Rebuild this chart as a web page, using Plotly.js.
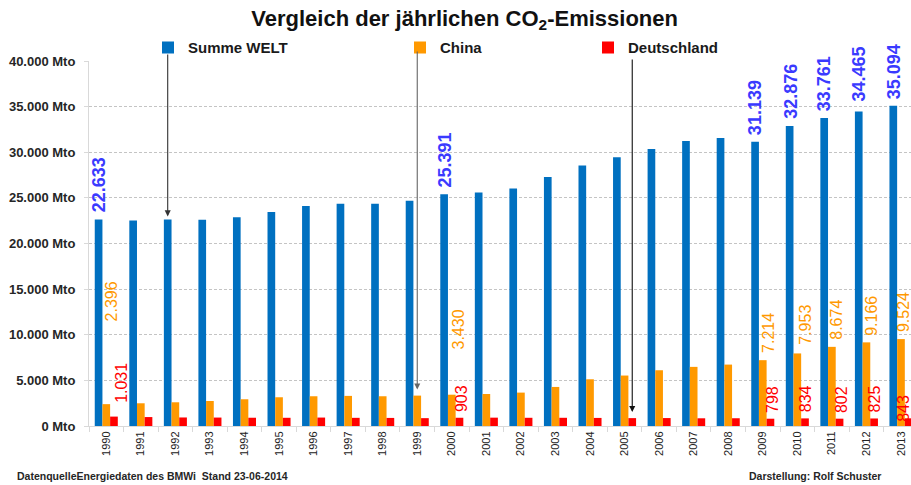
<!DOCTYPE html>
<html><head><meta charset="utf-8">
<script src="https://cdn.plot.ly/plotly-3.0.1.min.js"></script>
<style>html,body{margin:0;padding:0;background:#fff}#chart{width:911px;height:485px}</style>
</head><body><div id="chart"></div>
<script>
// ---- data ----
const years = ['1990','1991','1992','1993','1994','1995','1996','1997','1998','1999','2000','2001','2002','2003','2004','2005','2006','2007','2008','2009','2010','2011','2012','2013'];
const welt = [22633,22530,22640,22600,22890,23440,24100,24350,24350,24680,25391,25600,26040,27280,28560,29440,30350,31230,31560,31139,32876,33761,34465,35094];
const china = [2396,2490,2600,2740,2930,3150,3260,3300,3260,3330,3430,3510,3660,4280,5120,5530,6110,6480,6730,7214,7953,8674,9166,9524];
const deutschland = [1031,980,935,925,905,900,925,895,885,860,903,915,900,900,885,865,870,845,850,798,834,802,825,843];
const seriesNames = ['Summe WELT','China','Deutschland'];
const labelYears = ['1990','2000','2009','2010','2011','2012','2013'];
const yTicks = [0,5000,10000,15000,20000,25000,30000,35000,40000];
const yUnit = 'Mto';
const titleText = 'Vergleich der jährlichen CO<sub>2</sub>-Emissionen';
const sourceText = 'DatenquelleEnergiedaten des BMWi  Stand 23-06-2014';
const authorText = 'Darstellung: Rolf Schuster';
const arrowTargets = [{series:0, year:'1992'}, {series:1, year:'1999'}, {series:2, year:'2005'}];

// ---- styles ----
const colors = ['#0070C0','#FF9900','#FF0000'];
const labelColors = ['#3a3aff','#FF9900','#FF0000'];
const FONT = 'Liberation Sans, Arial, sans-serif';
const bargap = 0.333;
const barOff = (1 - bargap) / 3;

function de(v){ return Math.round(v).toString().replace(/\B(?=(\d{3})+(?!\d))/g,'.'); }

const series = [welt, china, deutschland];
const legendIds = ['legend','legend2','legend3'];
const traces = series.map((vals,i)=>({
  type:'bar', name:seriesNames[i], x:years, y:vals,
  marker:{color:colors[i], line:{width:0}},
  legend:legendIds[i], hoverinfo:'skip'
}));

// label offsets (pixels) per series / year
const labelStyle = {
  0:{def:{dx:-7,dy:6}, '2012':{dx:-7,dy:9}},
  1:{def:{dx:5,dy:6}, '1990':{dx:5,dy:82}, '2000':{dx:7,dy:44}, '2010':{dx:8,dy:8}, '2013':{dx:2,dy:6}},
  2:{def:{dx:9,dy:5}, '1990':{dx:15,dy:13}, '2013':{dx:3,dy:-4}}
};
const annotations = [];
series.forEach((vals,s)=>{
  labelYears.forEach(yr=>{
    const i = years.indexOf(yr);
    const st = labelStyle[s][yr] || labelStyle[s].def;
    annotations.push({
      x:i, y:vals[i], xref:'x', yref:'y', text:de(vals[i]), showarrow:false,
      textangle:-90, xanchor:'center', yanchor:'bottom', xshift:st.dx, yshift:st.dy,
      font:{family:FONT, size:s===0?18:16, color:labelColors[s], weight:s===0?'bold':'normal'},
      borderpad:0
    });
  });
});
const arrowTails = [40880, 41210, 40330];
const arrowStand = [3, 6, 6];
const arrowColors = ['#333333','#666666','#111111'];
arrowTargets.forEach((a,k)=>{
  const i = years.indexOf(a.year);
  annotations.push({
    x:i + (a.series-1)*barOff, y:series[a.series][i], xref:'x', yref:'y',
    text:'', showarrow:true, arrowhead:2, arrowsize:1.1, arrowwidth:1.1,
    arrowcolor:arrowColors[k], axref:'pixel', ax:0, ayref:'y', ay:arrowTails[k],
    standoff:arrowStand[k]
  });
});
annotations.push({xref:'paper', yref:'paper', x:-0.09, y:-0.138, xanchor:'left', yanchor:'middle',
  text:sourceText, showarrow:false, font:{family:FONT, size:10.5, color:'#262626', weight:'bold'}});
annotations.push({xref:'paper', yref:'paper', x:0.8005, y:-0.138, xanchor:'left', yanchor:'middle',
  text:authorText, showarrow:false, font:{family:FONT, size:10.5, color:'#262626', weight:'bold'}});

const legFont = {family:FONT, size:15, color:'#1a1a1a', weight:'bold'};
function leg(xp){ return {x:xp, y:1.036, xanchor:'left', yanchor:'middle', orientation:'h',
  font:legFont, bgcolor:'rgba(0,0,0,0)', borderwidth:0, itemclick:false}; }

const layout = {
  width:911, height:485,
  margin:{l:89, r:0, t:61, b:59, pad:0, autoexpand:false},
  paper_bgcolor:'#fff', plot_bgcolor:'#fff',
  separators:',.',
  title:{text:titleText, x:0.51, xanchor:'center', y:0.963, yanchor:'middle', xref:'container', yref:'container',
    font:{family:FONT, size:22, color:'#111', weight:'bold'}},
  barmode:'group', bargap:bargap, bargroupgap:0,
  showlegend:true,
  legend:leg((148-89)/822), legend2:leg((400-89)/822), legend3:leg((588-89)/822),
  xaxis:{type:'category', range:[-0.5, 23.29], showline:true, linecolor:'#d9d9d9', linewidth:1,
    ticks:'outside', tickson:'boundaries', ticklen:5, tickcolor:'#d9d9d9', tickangle:-90,
    tickfont:{family:FONT, size:11, color:'#222'}, showgrid:false, fixedrange:true},
  yaxis:{range:[0,40000], tickmode:'array', tickvals:yTicks, ticktext:yTicks.map(v=>de(v)+' '+yUnit),
    showline:true, linecolor:'#d9d9d9', ticks:'outside', ticklen:4, tickcolor:'#d9d9d9',
    ticklabelstandoff:6,
    tickfont:{family:FONT, size:13, color:'#262626', weight:'bold'},
    showgrid:true, gridcolor:'#c4c4c4', griddash:'3px,2px', gridwidth:1, zeroline:false, fixedrange:true},
  annotations:annotations
};
Plotly.newPlot('chart', traces, layout, {displayModeBar:false, staticPlot:true});
</script></body></html>
